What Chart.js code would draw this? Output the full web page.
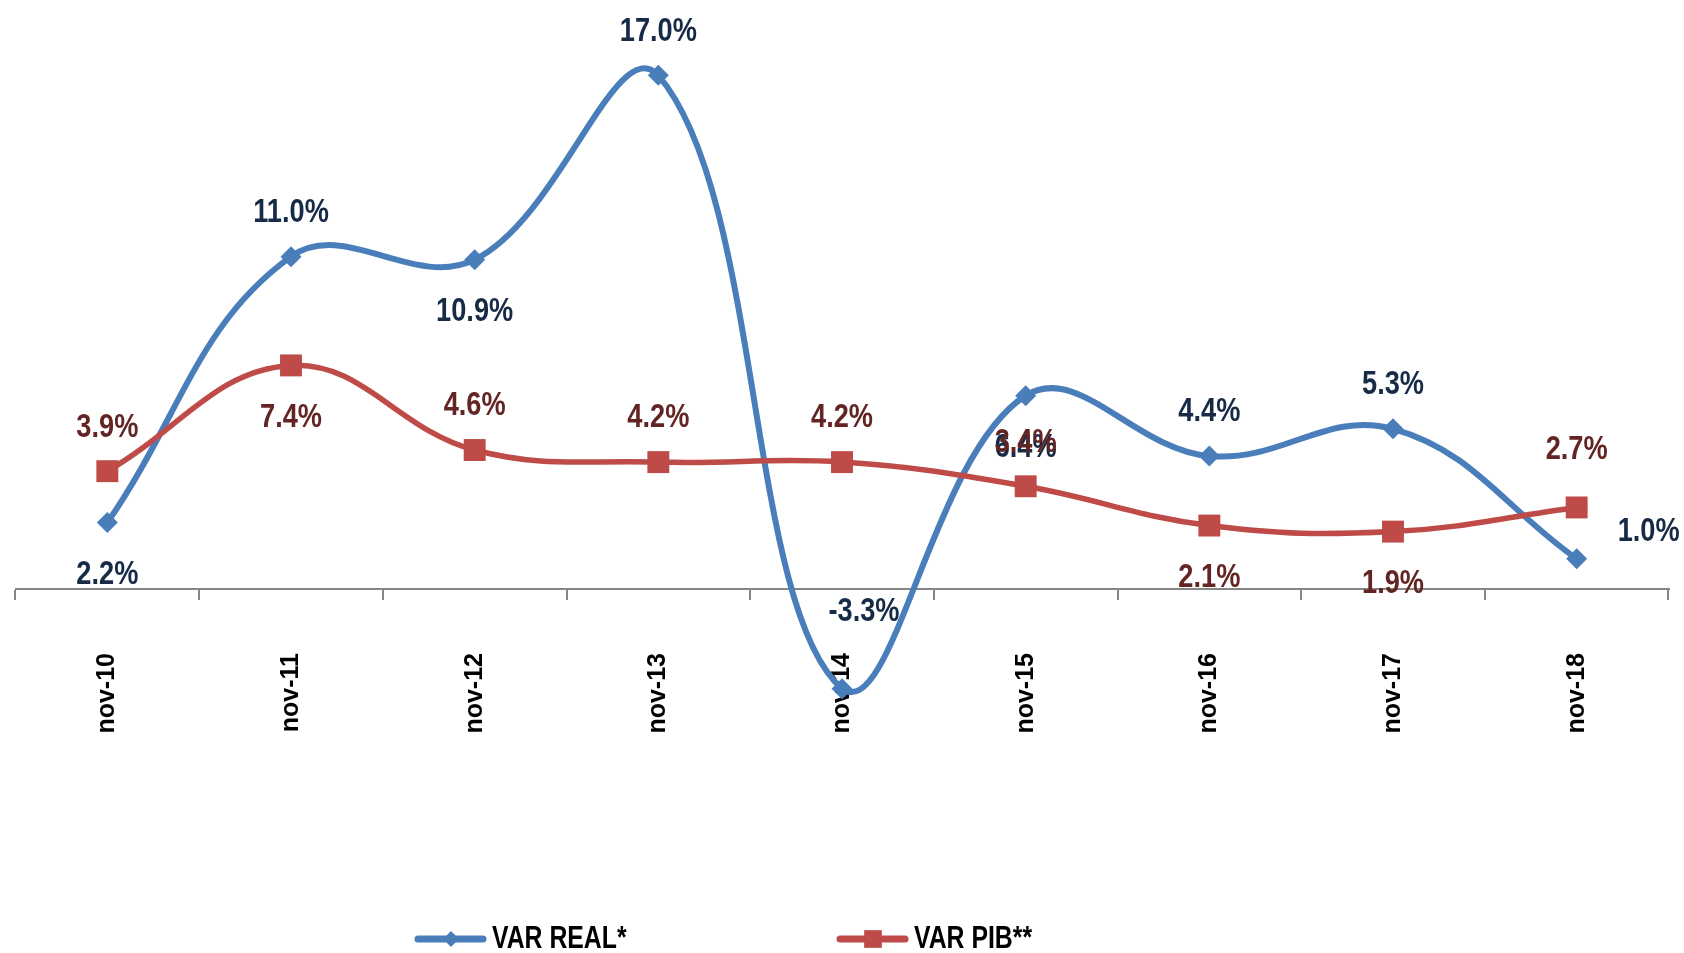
<!DOCTYPE html>
<html>
<head>
<meta charset="utf-8">
<title>VAR REAL vs VAR PIB</title>
<script src="https://cdn.jsdelivr.net/npm/chart.js@4.4.1/dist/chart.umd.min.js"></script>
<style>
  html, body { margin: 0; padding: 0; background: #ffffff; }
  #wrap { width: 1684px; height: 953px; }
</style>
</head>
<body>
<div id="wrap"><canvas id="chart" width="1684" height="953"></canvas></div>
<script>
// Categories and the two series (values in %)
const periods = ['nov-10', 'nov-11', 'nov-12', 'nov-13', 'nov-14', 'nov-15', 'nov-16', 'nov-17', 'nov-18'];
const varReal = [2.2, 11.0, 10.9, 17.0, -3.3, 6.4, 4.4, 5.3, 1.0];
const varPib = [3.9, 7.4, 4.6, 4.2, 4.2, 3.4, 2.1, 1.9, 2.7];
const seriesNames = ['VAR REAL*', 'VAR PIB**'];

// Where each value label sits relative to its point
const realLabelSide = ['below', 'above', 'below', 'above', 'gapAbove', 'below', 'above', 'above', 'right'];
const pibLabelSide = ['above', 'below', 'above', 'above', 'above', 'above', 'below', 'below', 'highAbove'];

const labelOffsets = {
    above: [0, -44],
    below: [0, 52],
    right: [72, -27],
    gapAbove: [22, -77],
    highAbove: [0, -58]
};

// No narrow font installed: squeeze Liberation Sans Bold like Arial Narrow
function fillNarrow(ctx, text, x, y, align) {
    ctx.save();
    ctx.translate(x, y);
    ctx.scale(0.8, 1);
    ctx.textAlign = align;
    ctx.textBaseline = 'middle';
    ctx.fillText(text, 0, 0);
    ctx.restore();
}

// Value labels drawn next to every point
const pointLabels = {
    id: 'pointLabels',
    afterDatasetsDraw(chart) {
        const ctx = chart.ctx;
        chart.data.datasets.forEach((ds, di) => {
            const meta = chart.getDatasetMeta(di);
            ctx.save();
            ctx.font = 'bold 34px "Liberation Sans", Arial, sans-serif';
            ctx.fillStyle = ds.labelColor;
            meta.data.forEach((pt, i) => {
                const [dx, dy] = labelOffsets[ds.labelSides[i]];
                fillNarrow(ctx, ds.data[i].toFixed(1) + '%', pt.x + dx, pt.y + dy, 'center');
            });
            ctx.restore();
        });
    }
};

// Excel-like legend: line sample with marker, then the name
const legendSlots = [415, 837];
const legendY = 939;
const bottomLegend = {
    id: 'bottomLegend',
    afterDraw(chart) {
        const ctx = chart.ctx;
        chart.data.datasets.forEach((ds, di) => {
            const x0 = legendSlots[di];
            ctx.save();
            ctx.strokeStyle = ds.borderColor;
            ctx.lineWidth = 7;
            ctx.lineCap = 'round';
            ctx.beginPath();
            ctx.moveTo(x0 + 3, legendY);
            ctx.lineTo(x0 + 68, legendY);
            ctx.stroke();
            ctx.fillStyle = ds.borderColor;
            Chart.helpers.drawPoint(ctx, {
                pointStyle: ds.pointStyle,
                radius: ds.legendRadius,
                borderWidth: 0,
                rotation: 0
            }, x0 + 36, legendY);
            ctx.fillStyle = '#000000';
            ctx.font = 'bold 31px "Liberation Sans", Arial, sans-serif';
            fillNarrow(ctx, ds.label, x0 + 77, legendY, 'left');
            ctx.restore();
        });
    }
};

new Chart(document.getElementById('chart'), {
    type: 'line',
    data: {
        labels: periods,
        datasets: [
            {
                label: seriesNames[0],
                data: varReal,
                order: 1,
                borderColor: '#4A7EBB',
                backgroundColor: '#4A7EBB',
                borderWidth: 6,
                tension: 0.4,
                pointStyle: 'rectRot',
                pointRadius: 10.5,
                pointBorderWidth: 0,
                legendRadius: 8,
                labelColor: '#172B47',
                labelSides: realLabelSide
            },
            {
                label: seriesNames[1],
                data: varPib,
                order: 0,
                borderColor: '#BE4B48',
                backgroundColor: '#BE4B48',
                borderWidth: 5.5,
                tension: 0.4,
                pointStyle: 'rect',
                pointRadius: 15.5,
                pointBorderWidth: 0,
                legendRadius: 12.5,
                labelColor: '#632523',
                labelSides: pibLabelSide
            }
        ]
    },
    options: {
        responsive: false,
        animation: false,
        devicePixelRatio: 1,
        clip: false,
        layout: { padding: { left: 11, right: 14, top: 30, bottom: 228 } },
        plugins: {
            legend: { display: false },
            tooltip: { enabled: false }
        },
        scales: {
            x: {
                type: 'category',
                position: { y: 0 },
                offset: true,
                afterFit: (scale) => { scale.height = 0; },
                border: { display: true, color: '#868686', width: 2 },
                grid: {
                    display: true,
                    offset: true,
                    drawOnChartArea: false,
                    drawTicks: true,
                    tickLength: 10,
                    color: '#868686',
                    lineWidth: 2
                },
                ticks: {
                    autoSkip: false,
                    minRotation: 90,
                    maxRotation: 90,
                    padding: 54,
                    color: '#000000',
                    font: { family: '"Liberation Sans", Arial, sans-serif', size: 25, weight: 'bold' }
                }
            },
            y: {
                display: false,
                min: -4.5,
                max: 18.5
            }
        }
    },
    plugins: [pointLabels, bottomLegend]
});
</script>
</body>
</html>
